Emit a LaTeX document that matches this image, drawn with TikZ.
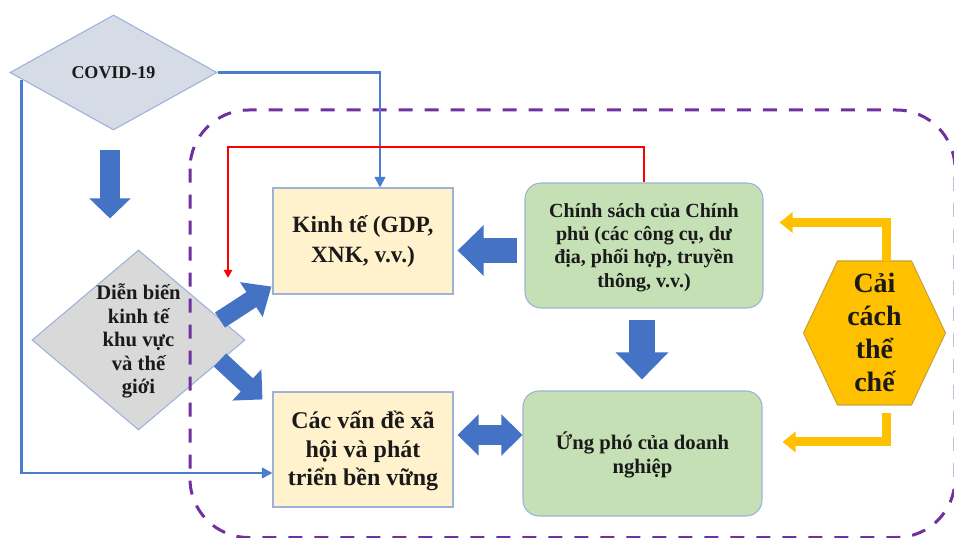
\documentclass[tikz,border=0pt]{standalone}
\usepackage{fontspec}
\setmainfont{Liberation Serif}
\usetikzlibrary{arrows.meta,calc,shapes.geometric}
\definecolor{bblue}{HTML}{4472C4}
\definecolor{lblue}{HTML}{4A7DD0}
\definecolor{bord}{HTML}{9DB2D9}
\definecolor{ybox}{HTML}{FFF2CC}
\definecolor{gbox}{HTML}{C5E0B4}
\definecolor{covfill}{HTML}{D6DCE5}
\definecolor{dienfill}{HTML}{D9D9D9}
\definecolor{gold}{HTML}{FFC000}
\definecolor{goldb}{HTML}{C8A23A}
\definecolor{purp}{HTML}{7030A0}
\definecolor{txt}{HTML}{1A1A1A}
\begin{document}
\begin{tikzpicture}[x=0.75pt,y=-0.75pt,
  ybx/.style={draw=bord,line width=0.8pt,fill=ybox,inner sep=0pt},
  gbx/.style={draw=bord,line width=0.8pt,fill=gbox,rounded corners=12pt,inner sep=0pt},
  dshape/.style={diamond,draw=bord,line width=0.8pt,inner sep=0pt},
  lbl/.style={text=txt,align=center,font=\bfseries},
  thinb/.style={draw=lblue,line width=1.9pt,-{Triangle[length=8pt,width=8pt]}},
  redl/.style={draw=red,line width=1.5pt,-{Triangle[length=6pt,width=6pt]}},
  blockarr/.style={draw=bblue,line cap=butt},
  goldarr/.style={draw=gold,line width=6.75pt,line cap=butt,-{Triangle[length=9.75pt,width=15pt]}},
]
\useasboundingbox (0,0) rectangle (954,538);
\clip (0,0) rectangle (954,538);

% diamonds
\node[dshape,fill=covfill,minimum width=155.25pt,minimum height=86.25pt] (covid) at (113.5,72.5) {};
\node[lbl,font=\bfseries\fontsize{13.5}{16}\selectfont] (covidt) at (covid) {COVID-19};
\node[dshape,fill=dienfill,minimum width=159.75pt,minimum height=135pt] (dien) at (138.5,340) {};

% dashed frame
\draw[purp,line width=2.25pt,dash pattern=on 10.5pt off 9pt,rounded corners=44pt] (190,110) rectangle (955,537.5);

\node[lbl,font=\bfseries\fontsize{15.5}{17.6}\selectfont] (dient) at (138.5,341) {Diễn biến\\kinh tế\\khu vực\\và thế\\giới};

% boxes
\node[ybx,minimum width=135pt,minimum height=79.5pt] (kinh) at (363,241) {};
\node[lbl,font=\bfseries\fontsize{17.5}{22.5}\selectfont] (kinht) at (kinh) {Kinh tế (GDP,\\XNK, v.v.)};
\node[ybx,minimum width=135pt,minimum height=86.25pt] (cac) at (363,449.5) {};
\node[lbl,font=\bfseries\fontsize{18}{21.4}\selectfont] (cact) at ($(cac)+(0,1.5)$) {Các vấn đề xã\\hội và phát\\triển bền vững};
\node[gbx,minimum width=178.5pt,minimum height=93.75pt] (chinh) at (644,245.5) {};
\node[lbl,font=\bfseries\fontsize{15}{17.6}\selectfont] (chinht) at ($(chinh)+(0,2)$) {Chính sách của Chính\\phủ (các công cụ, dư\\địa, phối hợp, truyền\\thông, v.v.)};
\node[gbx,minimum width=179.25pt,minimum height=93.75pt] (ung) at (642.5,453.5) {};
\node[lbl,font=\bfseries\fontsize{15.5}{18}\selectfont] (ungt) at ($(ung)+(0,1.5)$) {Ứng phó của doanh\\nghiệp};

% hexagon
\coordinate (hexc) at (874.5,333);
\draw[draw=goldb,line width=0.8pt,fill=gold]
  ($(hexc)+(-37,-72)$) -- ($(hexc)+(37,-72)$) -- ($(hexc)+(71,0)$) --
  ($(hexc)+(37,72)$) -- ($(hexc)+(-37,72)$) -- ($(hexc)+(-71,0)$) -- cycle;
\node[lbl,font=\bfseries\fontsize{21}{24.75}\selectfont] (hex) at ($(hexc)+(0,-0.5)$) {Cải\\cách\\thể\\chế};

% thin connectors
\draw[thinb] (covid.east) -| ($(kinh.north)+(17,0)$);
\draw[thinb] ($(covid.west)+(12,8)$) |- ($(cac.west)+(0,23.5)$);
\coordinate (rc) at (228,147);
\draw[redl] (chinh.north) |- (rc) -- ++(0,131);

% block arrows
\draw[blockarr,line width=18.75pt,-{Triangle[length=19.5pt,width=36.75pt]}] ($(chinh.west)+(-7,5)$) -- ($(kinh.east)+(4,9.5)$);
\draw[blockarr,line width=19.5pt,-{Triangle[length=20.25pt,width=38.25pt]}] ($(chinh.south)+(-2,11)$) -- ($(ung.north)+(-0.5,-11)$);
\draw[blockarr,line width=15pt,{Triangle[length=15.75pt,width=30pt]}-{Triangle[length=15.75pt,width=30pt]}] ($(cac.east)+(4,-14.5)$) -- ($(ung.west)+(0,-18.5)$);
\draw[blockarr,line width=15pt,-{Triangle[length=15pt,width=30pt]}] ($(covid.south)+(-3.5,19)$) -- ($(dien.north)+(-28.5,-31)$);
\draw[blockarr,line width=13.5pt,-{Triangle[length=18pt,width=30pt]}] ($(dien)+(81.5,-20)$) -- ($(kinh.south west)+(-1,-8)$);
\draw[blockarr,line width=13.5pt,-{Triangle[length=16pt,width=31pt]}] ($(dien)+(81.5,20)$) -- ($(cac.north west)+(-10,8)$);

% gold elbow arrows
\draw[goldarr] ($(hexc)+(11.5,-72)$) |- ($(chinh.east)+(16,-23)$);
\draw[goldarr] ($(hexc)+(12,80)$) |- ($(ung.east)+(20,-11.5)$);
\end{tikzpicture}
\end{document}
